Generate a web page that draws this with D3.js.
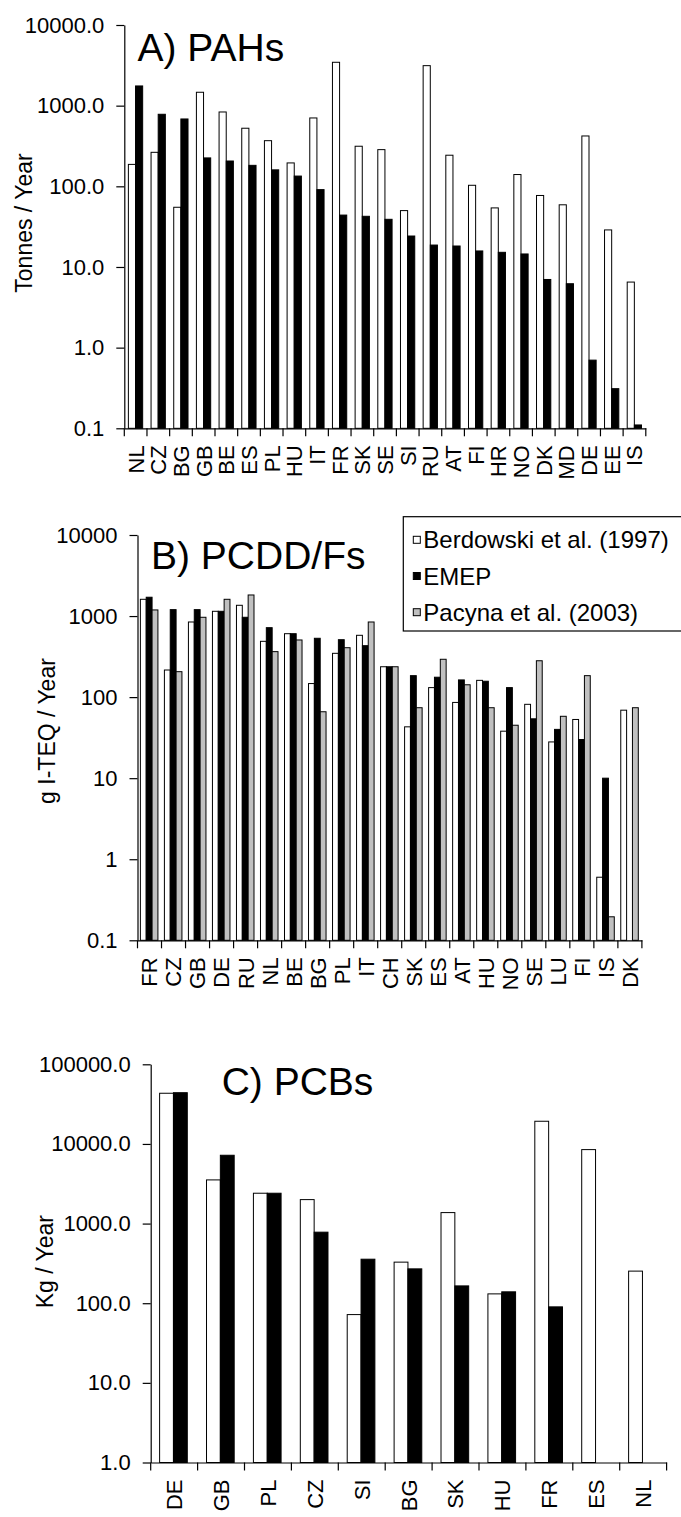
<!DOCTYPE html>
<html>
<head>
<meta charset="utf-8">
<script src="https://cdn.jsdelivr.net/npm/d3@7"></script>
<style>
    body { margin: 0; background: #fff; }
    svg text { font-family: "Liberation Sans", Arial, sans-serif; fill: #000; }
</style>
</head>
<body>
<div class="canvas"></div>
<script>
////////////////////////////////////////////////////////////////////////////////
// data (log scales, so values are approximate)
////////////////////////////////////////////////////////////////////////////////

// A) PAHs, tonnes / year
const pahCountries = ['NL', 'CZ', 'BG', 'GB', 'BE', 'ES', 'PL', 'HU', 'IT', 'FR', 'SK', 'SE',
    'SI', 'RU', 'AT', 'FI', 'HR', 'NO', 'DK', 'MD', 'DE', 'EE', 'IS'];
const pahBerdowski = [187, 264, 55, 1466, 835, 525, 368, 195, 704, 3450, 314, 285,
    50, 3133, 243, 103, 54, 140, 77, 59, 421, 28.8, 6.5];
const pahEmep = [1755, 782, 684, 225, 206, 182, 160, 134, 91, 44, 42.5, 39,
    24.2, 18.7, 18.2, 15.8, 15.2, 14.5, 7.0, 6.2, 0.70, 0.31, 0.11];

// B) PCDD/Fs, g I-TEQ / year
const pcddCountries = ['FR', 'CZ', 'GB', 'DE', 'RU', 'NL', 'BE', 'BG', 'PL', 'IT', 'CH', 'SK',
    'ES', 'AT', 'HU', 'NO', 'SE', 'LU', 'FI', 'IS', 'DK'];
const pcddBerdowski = [1610, 216, 845, 1145, 1358, 488, 606, 147, 347, 579, 237, 43,
    131, 86, 161, 38, 81.5, 28, 53, 0.6, 69];
const pcddEmep = [1707, 1200, 1200, 1145, 966, 719, 606, 532, 511, 431, 237, 184,
    176, 163, 157, 131, 54, 40, 30, 10, null];
const pcddPacyna = [1190, 206, 966, 1610, 1820, 364, 507, 66, 407, 845, 237, 74,
    293, 142, 74, 45, 281, 58, 184, 0.195, 74];

// C) PCBs, kg / year
const pcbCountries = ['DE', 'GB', 'PL', 'CZ', 'SI', 'BG', 'SK', 'HU', 'FR', 'ES', 'NL'];
const pcbBerdowski = [43300, 3535, 2405, 2000, 72, 328, 1374, 131, 19270, 8490, 253];
const pcbEmep = [44000, 7210, 2405, 780, 357, 270, 165, 139, 90, null, null];

// tick values per panel
const ticksA = [10000, 1000, 100, 10, 1, 0.1];
const ticksB = [10000, 1000, 100, 10, 1, 0.1];
const ticksC = [100000, 10000, 1000, 100, 10, 1];

const legendLabels = ['Berdowski et al. (1997)', 'EMEP', 'Pacyna et al. (2003)'];

////////////////////////////////////////////////////////////////////////////////
// canvas
////////////////////////////////////////////////////////////////////////////////
const svg = d3.select('.canvas')
    .append('svg')
    .attr('width', 681)
    .attr('height', 1517);

const fills = { berdowski: '#fff', emep: '#000', pacyna: '#c0c0c0' };

const drawPanel = (p) => {
    // outer band per country, inner band per data source
    const x = d3.scaleBand().domain(p.cats).range([p.left, p.right]);
    const keys = p.series.map(s => s.key);
    const xs = d3.scaleBand().domain(keys)
        .range([x.bandwidth() * p.inner[0], x.bandwidth() * p.inner[1]]);
    const y = d3.scaleLog().domain(p.domain).range([p.bottom, p.top]);

    const g = svg.append('g');

    p.series.forEach(s => {
        const rows = p.cats.map((c, i) => ({ c, v: s.values[i] })).filter(d => d.v != null);
        g.selectAll(null)
            .data(rows)
            .enter()
            .append('rect')
                .attr('x', d => x(d.c) + xs(s.key))
                .attr('width', xs.bandwidth())
                .attr('y', d => y(d.v))
                .attr('height', d => y(p.domain[0]) - y(d.v))
                .attr('fill', fills[s.key])
                .attr('stroke', '#000')
                .attr('stroke-width', 1);
    });

    // y axis
    const yAxis = d3.axisLeft(y)
        .tickValues(p.ticks)
        .tickFormat(p.fmt)
        .tickSize(8)
        .tickPadding(12)
        .tickSizeOuter(0);
    const yg = g.append('g')
        .attr('transform', `translate(${p.left}, 0)`)
        .call(yAxis);
    yg.selectAll('text').attr('font-size', 22).attr('font-family', null);
    yg.selectAll('path, line').attr('stroke', '#000').attr('stroke-width', 1.2);

    // x axis, labels rotated
    const xAxis = d3.axisBottom(x).tickSize(0).tickSizeOuter(0);
    const xg = g.append('g')
        .attr('transform', `translate(0, ${p.bottom})`)
        .call(xAxis);
    xg.select('.domain').attr('stroke', '#000').attr('stroke-width', 1.2);
    xg.selectAll('text')
        .attr('font-size', 22)
        .attr('font-family', null)
        .attr('transform', 'rotate(-90)')
        .attr('text-anchor', 'end')
        .attr('x', -17)
        .attr('y', 0)
        .attr('dy', '0.36em');

    // ticks sit on the category boundaries
    const bounds = p.cats.map(c => x(c)).concat([x.range()[1]]);
    xg.selectAll('line.bound')
        .data(bounds)
        .enter()
        .append('line')
            .attr('class', 'bound')
            .attr('x1', d => d).attr('x2', d => d)
            .attr('y1', 0).attr('y2', 8)
            .attr('stroke', '#000')
            .attr('stroke-width', 1.2);

    // titles
    g.append('text')
        .attr('x', p.titleX)
        .attr('y', p.titleY)
        .attr('font-size', 39)
        .text(p.title);

    g.append('text')
        .attr('transform', `translate(${p.yTitleX}, ${p.yTitleY}) rotate(-90)`)
        .attr('text-anchor', 'middle')
        .attr('font-size', 23)
        .text(p.yTitle);
};

const fmt1 = d3.format('.1f');

drawPanel({
    cats: pahCountries,
    series: [{ key: 'berdowski', values: pahBerdowski }, { key: 'emep', values: pahEmep }],
    left: 124.3, right: 645.8, top: 25, bottom: 428.3,
    domain: [0.1, 10000], ticks: ticksA, fmt: fmt1,
    inner: [0.18, 0.81],
    title: 'A) PAHs', titleX: 137.5, titleY: 60.7,
    yTitle: 'Tonnes / Year', yTitleX: 31.5, yTitleY: 223
});

drawPanel({
    cats: pcddCountries,
    series: [{ key: 'berdowski', values: pcddBerdowski }, { key: 'emep', values: pcddEmep },
        { key: 'pacyna', values: pcddPacyna }],
    left: 137.5, right: 641.9, top: 535, bottom: 940.3,
    domain: [0.1, 10000], ticks: ticksB, fmt: d => d < 1 ? fmt1(d) : d3.format('d')(d),
    inner: [0.12, 0.85],
    title: 'B) PCDD/Fs', titleX: 151, titleY: 569.3,
    yTitle: 'g I-TEQ / Year', yTitleX: 55, yTitleY: 731
});

drawPanel({
    cats: pcbCountries,
    series: [{ key: 'berdowski', values: pcbBerdowski }, { key: 'emep', values: pcbEmep }],
    left: 150.7, right: 666.6, top: 1064.3, bottom: 1462.5,
    domain: [1, 100000], ticks: ticksC, fmt: fmt1,
    inner: [0.19, 0.78],
    title: 'C) PCBs', titleX: 221.7, titleY: 1095,
    yTitle: 'Kg / Year', yTitleX: 52.5, yTitleY: 1261.7
});

// legend for panel B
const legend = svg.append('g').attr('transform', 'translate(403.3, 516.7)');
legend.append('rect')
    .attr('width', 290).attr('height', 114.3)
    .attr('fill', '#fff')
    .attr('stroke', '#000')
    .attr('stroke-width', 1.2);

const legendKeys = ['berdowski', 'emep', 'pacyna'];
const legendRow = legend.selectAll('g.row')
    .data(legendKeys)
    .enter()
    .append('g')
        .attr('class', 'row')
        .attr('transform', (d, i) => `translate(0, ${31.6 + i * 36.2})`);

legendRow.append('rect')
    .attr('x', 10).attr('y', -12)
    .attr('width', 7).attr('height', 7)
    .attr('fill', d => fills[d])
    .attr('stroke', '#000')
    .attr('stroke-width', 1);

legendRow.append('text')
    .attr('x', 20)
    .attr('font-size', 24)
    .text((d, i) => legendLabels[i]);
</script>
</body>
</html>
